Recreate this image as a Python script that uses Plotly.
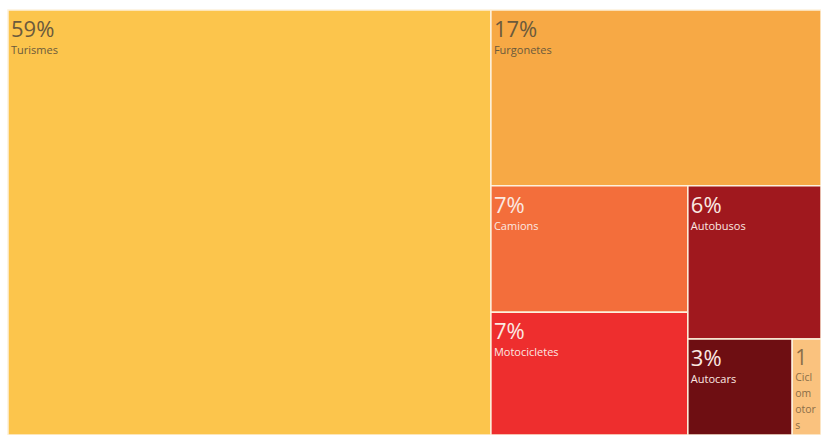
import plotly.graph_objects as go

# Vehicle fleet composition by type (share of total, %)
labels = ["Turismes", "Furgonetes", "Camions", "Motocicletes", "Autobusos", "Autocars", "Ciclomotors"]
values = [59.4, 16.8, 7.2, 7.0, 5.9, 2.9, 0.8]
colors = ["#FCC54C", "#F7A945", "#F36E3B", "#EE2E2E", "#A0181E", "#6E0E12", "#FAC27E"]
text_colors = ["#6b5a3c", "#6b5a3c", "#fbe9e2", "#fbe9e2", "#fbe9e2", "#fbe9e2", "#8a6e48"]

total = sum(values)
pct_text = [f"{round(v / total * 100)}%" for v in values]
shown_labels = list(labels)

# The smallest tile is too narrow for its text: wrap the name and let the % fall off
narrow = labels.index("Ciclomotors")
shown_labels[narrow] = "Cicl<br>om<br>otor<br>s"
pct_text[narrow] = pct_text[narrow].rstrip("%")

fig = go.Figure(go.Treemap(
    labels=labels,
    parents=[""] * len(labels),
    values=values,
    customdata=list(zip(pct_text, shown_labels)),
    texttemplate="<span style='font-size:22px'>%{customdata[0]}</span><br><span style='font-size:11px'>%{customdata[1]}</span>",
    textposition="top left",
    textfont=dict(family="Open Sans", size=13, color=text_colors),
    marker=dict(colors=colors, line=dict(color="#fdf1dc", width=1.5),
                pad=dict(t=0, l=0, r=0, b=0)),
    tiling=dict(pad=0),
    pathbar=dict(visible=False),
    sort=True,
    hoverinfo="label+percent root",
))

fig.update_layout(
    width=821,
    height=435,
    margin=dict(l=8, r=0, t=10, b=0),
    paper_bgcolor="white",
)

fig.write_html("out.html")
